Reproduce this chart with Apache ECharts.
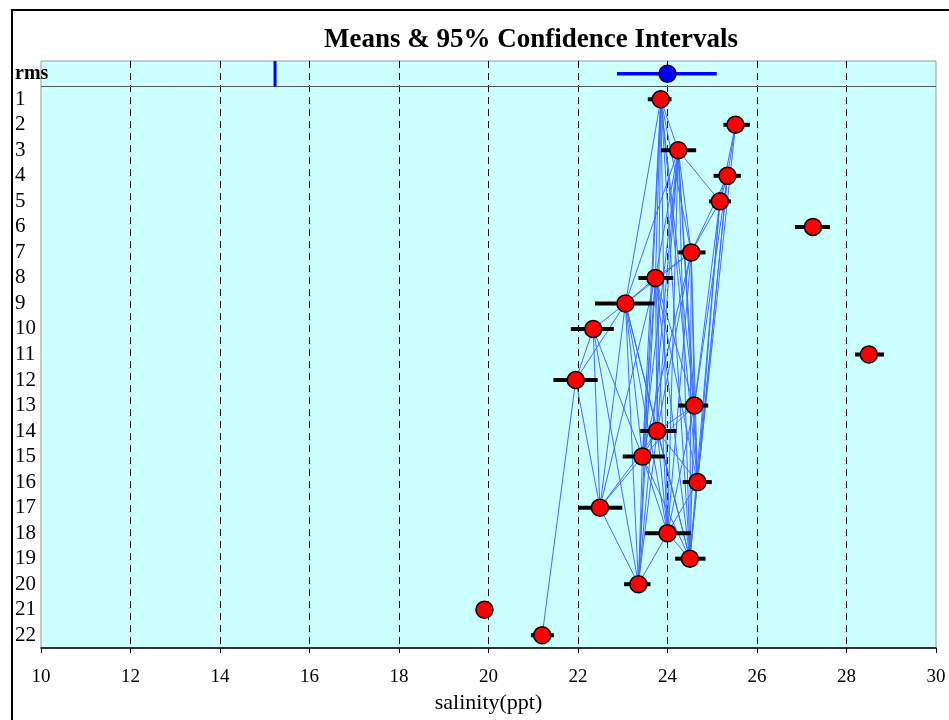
<!DOCTYPE html>
<html>
<head>
<meta charset="utf-8">
<script src="https://cdn.jsdelivr.net/npm/echarts@6/dist/echarts.min.js"></script>
<style>
  html, body { margin: 0; padding: 0; background: #fff; }
  #main { width: 949px; height: 720px; }
</style>
</head>
<body>
<div id="main"></div>
<script>
// row labels (top row is the rms summary)
var rowLabels = ['rms', '1', '2', '3', '4', '5', '6', '7', '8', '9', '10', '11',
  '12', '13', '14', '15', '16', '17', '18', '19', '20', '21', '22'];

// means and 95% CI ends of groups 1..22 (salinity, ppt)
var means  = [23.85, 25.52, 24.24, 25.34, 25.17, 27.25, 24.53, 23.73, 23.06, 22.34, 28.50,
  21.95, 24.60, 23.77, 23.44, 24.67, 22.49, 24.00, 24.50, 23.35, 19.91, 21.20];
var ciLow  = [23.56, 25.25, 23.86, 25.03, 24.93, 26.85, 24.24, 23.35, 22.38, 21.84, 28.19,
  21.45, 24.24, 23.39, 23.00, 24.34, 22.02, 23.50, 24.17, 23.03, 19.76, 20.95];
var ciHigh = [24.09, 25.84, 24.64, 25.64, 25.42, 27.63, 24.85, 24.13, 23.71, 22.80, 28.84,
  22.44, 24.91, 24.20, 23.94, 24.99, 22.99, 24.52, 24.85, 23.62, 20.06, 21.46];

// rms row: mean with its CI, and the reference mark
var rmsMean = 24.0;
var rmsLow = 22.87;
var rmsHigh = 25.10;
var rmsRef = 15.23;

var xTicks = [10, 12, 14, 16, 18, 20, 22, 24, 26, 28, 30];

// groups are linked when their means are not separated (combined CI test)
var linkFactor = 2.05;

var serif = '"Liberation Serif", "Times New Roman", serif';

var links = [];
for (var i = 0; i < means.length; i++) {
  for (var j = i + 1; j < means.length; j++) {
    var hi = (ciHigh[i] - ciLow[i]) / 2, hj = (ciHigh[j] - ciLow[j]) / 2;
    if (Math.abs(means[i] - means[j]) <= linkFactor * Math.sqrt(hi * hi + hj * hj)) {
      links.push({ coords: [[means[i], i + 1], [means[j], j + 1]] });
    }
  }
}

var points = means.map(function (m, k) { return [m, k + 1]; });
var bars = means.map(function (m, k) { return [ciLow[k], ciHigh[k], k + 1]; });

// dashed split lines only inside the frame, not on its edges
var splitColors = xTicks.map(function (t, k) {
  return (k === 0 || k === xTicks.length - 1) ? 'rgba(0,0,0,0)' : '#000';
});

var myChart = echarts.init(document.getElementById('main'));

var option = {
  backgroundColor: '#fff',
  animation: false,
  title: {
    text: 'Means & 95% Confidence Intervals',
    left: 319,
    top: 22,
    textStyle: { fontFamily: serif, fontSize: 27, fontWeight: 'bold', color: '#000' }
  },
  graphic: [{
    type: 'rect',
    shape: { x: 12, y: 10, width: 1000, height: 800 },
    style: { fill: 'none', stroke: '#000', lineWidth: 2 },
    silent: true
  }],
  grid: {
    left: 41, right: 13, top: 61, bottom: 72,
    show: true,
    backgroundColor: '#ccffff',
    borderColor: '#999',
    borderWidth: 1
  },
  xAxis: {
    type: 'value',
    min: 10, max: 30, interval: 2,
    name: 'salinity(ppt)',
    nameLocation: 'middle',
    nameGap: 38,
    nameTextStyle: { fontFamily: serif, fontSize: 22, color: '#000' },
    axisLine: { show: true, lineStyle: { color: '#000', width: 1.5 } },
    axisTick: { show: true, length: 5, lineStyle: { color: '#000' } },
    axisLabel: { fontFamily: serif, fontSize: 19, color: '#000', margin: 20 },
    splitLine: { show: true, lineStyle: { color: splitColors, type: [7, 5], width: 1 } }
  },
  yAxis: {
    type: 'category',
    data: rowLabels,
    inverse: true,
    axisLine: { show: false },
    axisTick: { show: false },
    splitLine: { show: false },
    axisLabel: {
      interval: 0,
      align: 'left',
      margin: 26,
      fontFamily: serif,
      fontSize: 21,
      color: '#000',
      formatter: function (v) { return v === 'rms' ? '{b|rms}' : v; },
      rich: { b: { fontFamily: serif, fontSize: 20, fontWeight: 'bold', color: '#000' } }
    }
  },
  series: [
    {
      // rms row: reference mark, CI bar and the line under the row
      type: 'custom',
      z: 3,
      silent: true,
      data: [[rmsLow, rmsHigh, 0, rmsRef]],
      encode: { x: [0, 1, 3], y: 2 },
      renderItem: function (params, api) {
        var cs = params.coordSys;
        var band = api.size([0, 1])[1];
        var a = api.coord([api.value(0), api.value(2)]);
        var b = api.coord([api.value(1), api.value(2)]);
        var r = api.coord([api.value(3), api.value(2)]);
        var yb = a[1] + band / 2;
        return {
          type: 'group',
          children: [
            { type: 'line', shape: { x1: cs.x, y1: yb, x2: cs.x + cs.width, y2: yb },
              style: { stroke: '#555', lineWidth: 1 } },
            { type: 'line', shape: { x1: r[0], y1: a[1] - band / 2, x2: r[0], y2: yb },
              style: { stroke: '#0000ff', lineWidth: 3 } },
            { type: 'line', shape: { x1: a[0], y1: a[1], x2: b[0], y2: b[1] },
              style: { stroke: '#0000ff', lineWidth: 3.5 } }
          ]
        };
      }
    },
    {
      type: 'lines',
      coordinateSystem: 'cartesian2d',
      z: 2,
      silent: true,
      lineStyle: { color: '#3f6cff', width: 1, opacity: 1 },
      data: links
    },
    {
      // 95% confidence intervals
      type: 'custom',
      z: 4,
      silent: true,
      data: bars,
      encode: { x: [0, 1], y: 2 },
      renderItem: function (params, api) {
        var a = api.coord([api.value(0), api.value(2)]);
        var b = api.coord([api.value(1), api.value(2)]);
        return { type: 'line', shape: { x1: a[0], y1: a[1], x2: b[0], y2: b[1] },
          style: { stroke: '#000', lineWidth: 4 } };
      }
    },
    {
      type: 'scatter',
      z: 5,
      silent: true,
      symbol: 'circle',
      symbolSize: 17,
      itemStyle: { color: '#ff0000', borderColor: '#000', borderWidth: 1.5, opacity: 1 },
      data: points
    },
    {
      type: 'scatter',
      z: 5,
      silent: true,
      symbol: 'circle',
      symbolSize: 17,
      itemStyle: { color: '#0000ff', borderColor: '#000', borderWidth: 1.5, opacity: 1 },
      data: [[rmsMean, 0]]
    }
  ]
};

myChart.setOption(option);
</script>
</body>
</html>
